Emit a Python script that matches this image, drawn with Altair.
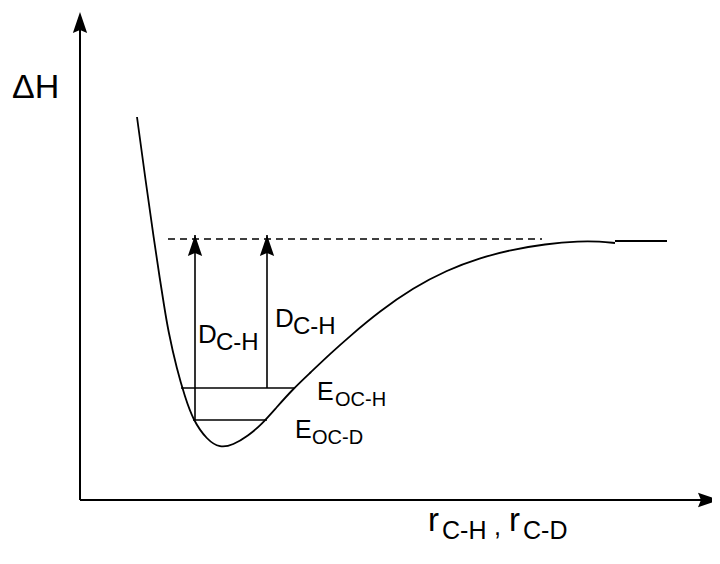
import altair as alt
import pandas as pd

# Morse-type potential curve (x = bond length, y = enthalpy, screen units)
curve_x = [137, 145.5, 154, 160, 164, 168, 177, 185, 193, 207, 220, 233, 248, 262, 276, 293, 310, 330, 350, 380, 413, 447, 480, 510, 545, 580, 600, 615]
curve_y = [117, 180, 240, 280, 305, 330, 370, 397, 420, 440, 448, 445, 436, 424, 408, 389, 373, 354, 336, 311, 288, 270, 258, 250, 244, 241, 241.5, 243]

# flat tail (dissociation limit)
tail_x = [615, 667]
tail_y = [241, 241]

# dissociation level (dashed)
dash_x = [168, 542]
dash_y = [239, 239]

# zero-point energy levels
zpe_names = ["E0C-H", "E0C-D"]
zpe_x1 = [181, 193]
zpe_x2 = [294, 267]
zpe_y = [388, 420]

# dissociation arrows
arrow_x = [195, 267]
arrow_y1 = [420, 388]
arrow_y2 = [235, 235]

# axes
axis_origin = (80, 500)
yaxis_top = 12
xaxis_right = 719

W, H = 704, 548

X = lambda f: alt.X(f, type="quantitative", scale=alt.Scale(domain=[8, 8 + W]), axis=None)
Y = lambda f: alt.Y(f, type="quantitative", scale=alt.Scale(domain=[8 + H, 8]), axis=None)
X2 = lambda f: alt.X2(f)
Y2 = lambda f: alt.Y2(f)

curve_df = pd.DataFrame({"x": curve_x, "y": curve_y})
tail_df = pd.DataFrame({"x": tail_x, "y": tail_y})
dash_df = pd.DataFrame({"x": dash_x, "y": dash_y})
zpe_df = pd.DataFrame({"name": zpe_names, "x1": zpe_x1, "x2": zpe_x2, "y": zpe_y})
arr_df = pd.DataFrame({"x": arrow_x, "y1": arrow_y1, "y2": arrow_y2})
axes_df = pd.DataFrame({
    "x1": [axis_origin[0], axis_origin[0]],
    "x2": [axis_origin[0], xaxis_right - 12],
    "y1": [axis_origin[1], axis_origin[1]],
    "y2": [yaxis_top + 12, axis_origin[1]],
})
uptips_df = pd.DataFrame({"x": [axis_origin[0]] + arrow_x, "y": [yaxis_top] + arrow_y2})
righttips_df = pd.DataFrame({"x": [xaxis_right], "y": [axis_origin[1]]})

UP = "M0,0L0.68,2L0,1.72L-0.68,2Z"
RIGHT = "M0,0L-2,-0.7L-1.72,0L-2,0.7Z"

curve = alt.Chart(curve_df).mark_line(color="black", strokeWidth=1.8, interpolate="basis").encode(
    x=X("x"), y=Y("y"))
tail = alt.Chart(tail_df).mark_line(color="black", strokeWidth=1.8).encode(x=X("x"), y=Y("y"))
dash = alt.Chart(dash_df).mark_line(color="black", strokeWidth=1.6, strokeDash=[7, 5]).encode(
    x=X("x"), y=Y("y"))
zpe = alt.Chart(zpe_df).mark_rule(color="black", strokeWidth=1.6).encode(
    x=X("x1"), x2=X2("x2"), y=Y("y"))
arrows = alt.Chart(arr_df).mark_rule(color="black", strokeWidth=1.6).encode(
    x=X("x"), y=Y("y1"), y2=Y2("y2"))
axes = alt.Chart(axes_df).mark_rule(color="black", strokeWidth=2).encode(
    x=X("x1"), x2=X2("x2"), y=Y("y1"), y2=Y2("y2"))
uptips = alt.Chart(uptips_df).mark_point(shape=UP, filled=True, color="black", size=441, opacity=1,
                                         strokeWidth=0).encode(x=X("x"), y=Y("y"))
righttips = alt.Chart(righttips_df).mark_point(shape=RIGHT, filled=True, color="black", size=441, opacity=1,
                                               strokeWidth=0).encode(x=X("x"), y=Y("y"))

# text labels: main letters and subscripts
label_text = ["ΔH", "D", "C-H", "D", "C-H", "E", "OC-H", "E", "OC-D", "r", "C-H", ",", "r", "C-D"]
label_x = [12, 198, 216, 275, 293, 317, 335, 295, 312, 428, 442, 494, 509, 523]
label_y = [98, 343, 350, 327, 334, 400, 406, 438, 444, 531, 539, 535, 531, 539]
label_size = [34, 26, 24, 26, 24, 25, 20, 25, 20, 33, 25, 25, 33, 25]
lab_df = pd.DataFrame({"t": label_text, "x": label_x, "y": label_y, "s": label_size})

labels = alt.Chart(lab_df).mark_text(
    align="left", baseline="alphabetic", font="Liberation Sans", color="black").encode(
    x=X("x"), y=Y("y"), text="t:N",
    size=alt.Size("s:Q", scale=None, legend=None))

chart = alt.layer(curve, tail, dash, zpe, arrows, axes, uptips, righttips, labels).properties(
    width=W, height=H, padding=0, autosize="none",
    background="white").configure_view(stroke=None)

chart.save("out.html", embed_options={"renderer": "svg", "actions": False})
